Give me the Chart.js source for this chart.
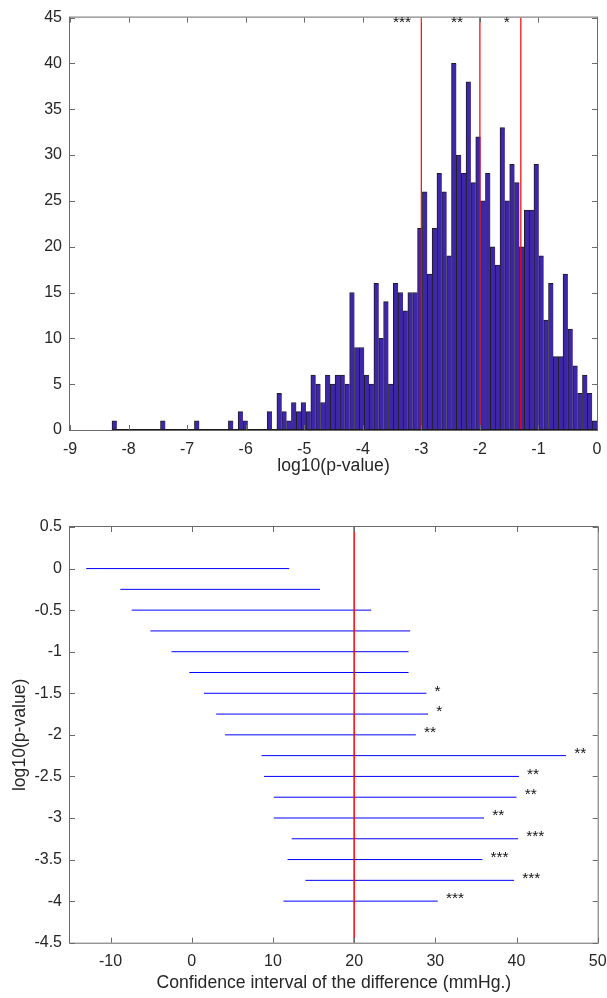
<!DOCTYPE html>
<html>
<head>
<meta charset="utf-8">
<script src="https://cdn.jsdelivr.net/npm/chart.js@4"></script>
<style>
  html, body { margin: 0; padding: 0; background: #fff; }
  #wrap { position: relative; width: 607px; height: 998px; }
  .box { position: absolute; left: 0; width: 607px; }
</style>
</head>
<body>
<div id="wrap">
  <div class="box" style="top:0;height:490px"><canvas id="histChart" width="607" height="490"></canvas></div>
  <div class="box" style="top:500px;height:498px"><canvas id="ciChart" width="607" height="498"></canvas></div>
</div>
<script>
// ---- top panel: histogram of log10(p-value), 100 bins ----
const histMin = -8.283;
const histBinWidth = 0.08283;
const histCounts = [
  1, 0, 0, 0, 0, 0, 0, 0, 0, 0,
  1, 0, 0, 0, 0, 0, 0, 1, 0, 0,
  0, 0, 0, 0, 1, 0, 2, 1, 0, 0,
  0, 0, 2, 0, 4, 2, 1, 3, 2, 3,
  2, 6, 5, 3, 6, 5, 6, 6, 5, 15,
  9, 9, 6, 5, 16, 10, 14, 5, 16, 15,
  13, 15, 15, 22, 26, 17, 22, 28, 26, 19,
  40, 30, 28, 38, 27, 32, 25, 28, 20, 18,
  33, 25, 29, 27, 20, 24, 24, 29, 19, 12,
  16, 8, 8, 17, 11, 7, 4, 6, 4, 1
];
const histXTicks = [-9, -8, -7, -6, -5, -4, -3, -2, -1, 0];
const histYTicks = [0, 5, 10, 15, 20, 25, 30, 35, 40, 45];
const sigLines = [-3, -2, -1.301];
const sigStarX = [-3.33, -2.39, -1.54];
const sigStarText = ['***', '**', '*'];

// ---- bottom panel: confidence intervals by log10(p-value) ----
const ciLogP = [0, -0.25, -0.5, -0.75, -1, -1.25, -1.5, -1.75, -2, -2.25, -2.5, -2.75, -3, -3.25, -3.5, -3.75, -4];
const ciLow  = [-13, -8.8, -7.4, -5.1, -2.5, -0.3, 1.5, 3.0, 4.1, 8.6, 8.9, 10.1, 10.1, 12.3, 11.8, 14.0, 11.3];
const ciHigh = [12, 15.8, 22.1, 26.9, 26.7, 26.7, 28.9, 29.1, 27.6, 46.1, 40.3, 40.0, 36.0, 40.2, 35.8, 39.7, 30.3];
const ciStars = ['', '', '', '', '', '', '*', '*', '**', '**', '**', '**', '**', '***', '***', '***', '***'];
const ciRef = 20;
const ciXTicks = [-10, 0, 10, 20, 30, 40, 50];
const ciYTicks = [0.5, 0, -0.5, -1, -1.5, -2, -2.5, -3, -3.5, -4, -4.5];

const FONT = "'Liberation Sans', Arial, Helvetica, sans-serif";
const TXT = '#262626';

// boxed axes with inward ticks, plus star annotations
const matlabAxes = {
  id: 'matlabAxes',
  afterDatasetsDraw(chart, args, opts) {
    const { ctx, chartArea: a, scales: { x, y } } = chart;
    ctx.save();
    if (opts.baseline) {
      ctx.strokeStyle = '#1a1a1a';
      ctx.lineWidth = 1;
      ctx.beginPath();
      ctx.moveTo(x.getPixelForValue(opts.baseline[0]), a.bottom - 0.5);
      ctx.lineTo(x.getPixelForValue(opts.baseline[1]), a.bottom - 0.5);
      ctx.stroke();
    }
    ctx.strokeStyle = '#6a6a6a';
    ctx.lineWidth = 1;
    ctx.strokeRect(a.left - 0.5, a.top - 0.5, a.right - a.left + 1, a.bottom - a.top + 1);
    ctx.beginPath();
    x.ticks.forEach(t => {
      const p = Math.round(x.getPixelForValue(t.value)) + 0.5;
      ctx.moveTo(p, a.bottom); ctx.lineTo(p, a.bottom - 5);
      ctx.moveTo(p, a.top); ctx.lineTo(p, a.top + 5);
    });
    y.ticks.forEach(t => {
      const p = Math.round(y.getPixelForValue(t.value)) + 0.5;
      ctx.moveTo(a.left, p); ctx.lineTo(a.left + 5, p);
      ctx.moveTo(a.right, p); ctx.lineTo(a.right - 5, p);
    });
    ctx.stroke();

    ctx.fillStyle = '#111';
    ctx.font = '15.5px ' + FONT;
    ctx.textBaseline = 'middle';
    const dy = opts.dy || 0;
    (opts.stars || []).forEach(s => {
      if (!s.text) return;
      ctx.textAlign = s.align;
      ctx.fillText(s.text, x.getPixelForValue(s.x), y.getPixelForValue(s.y) + dy);
    });
    ctx.restore();
  }
};

function axisCommon(tickList) {
  return {
    type: 'linear',
    offset: false,
    grid: { display: false, drawTicks: false },
    border: { display: false },
    afterBuildTicks: s => { s.ticks = tickList.map(v => ({ value: v })); },
    ticks: {
      font: { family: FONT, size: 16 },
      color: TXT,
      autoSkip: false,
      maxRotation: 0,
      callback: v => String(v)
    }
  };
}

// top: histogram
const hx = axisCommon(histXTicks);
hx.min = -9; hx.max = 0;
hx.ticks.padding = 9.5;
hx.afterFit = s => { s.height = 60; s.paddingLeft = 0; s.paddingRight = 0; };
hx.title = { display: true, text: 'log10(p-value)', color: TXT,
  font: { family: FONT, size: 17.6 }, padding: { top: 0, bottom: 12.8 } };

const hy = axisCommon(histYTicks);
hy.min = 0; hy.max = 45;
hy.ticks.padding = 8;
hy.afterFit = s => { s.width = 70; };

new Chart(document.getElementById('histChart'), {
  type: 'bar',
  data: {
    datasets: [
      ...sigLines.map(v => ({
        type: 'line',
        data: [{ x: v, y: 0 }, { x: v, y: 45 }],
        borderColor: '#ff0000', borderWidth: 1.2, pointRadius: 0, order: 0
      })),
      {
        type: 'bar',
        data: histCounts.map((c, i) => ({ x: histMin + (i + 0.5) * histBinWidth, y: c })),
        backgroundColor: '#3e26a8',
        borderColor: '#1e1e1e',
        borderWidth: { left: 1, top: 1, right: 0, bottom: 0 },
        borderSkipped: false,
        barPercentage: 1,
        categoryPercentage: 1,
        order: 1
      }
    ]
  },
  options: {
    responsive: false,
    animation: false,
    layout: { padding: { left: 0, right: 10, top: 15, bottom: 0 } },
    plugins: {
      legend: { display: false },
      tooltip: { enabled: false },
      matlabAxes: {
        baseline: [histMin, histMin + histCounts.length * histBinWidth],
        dy: 0,
        stars: sigStarText.map((t, i) => ({ text: t, x: sigStarX[i], y: 44.4, align: 'center' }))
      }
    },
    scales: { x: hx, y: hy }
  },
  plugins: [matlabAxes]
});

// bottom: confidence intervals
const cx = axisCommon(ciXTicks);
cx.min = -15; cx.max = 50;
cx.ticks.padding = 9.5;
cx.afterFit = s => { s.height = 55.3; s.paddingLeft = 0; s.paddingRight = 0; };
cx.title = { display: true, text: 'Confidence interval of the difference (mmHg.)', color: TXT,
  font: { family: FONT, size: 17.6 }, padding: { top: 0, bottom: 4 } };

const cy = axisCommon(ciYTicks);
cy.min = -4.5; cy.max = 0.5;
cy.ticks.padding = 8;
cy.afterFit = s => { s.width = 70; };
cy.title = { display: true, text: 'log10(p-value)', color: TXT,
  font: { family: FONT, size: 17.6 }, padding: { top: 10, bottom: 0 } };

new Chart(document.getElementById('ciChart'), {
  type: 'line',
  data: {
    datasets: [
      {
        data: [{ x: ciRef, y: -4.5 }, { x: ciRef, y: 0.5 }],
        borderColor: '#ff0000', borderWidth: 1.5, pointRadius: 0, order: 0
      },
      ...ciLogP.map((v, i) => ({
        data: [{ x: ciLow[i], y: v }, { x: ciHigh[i], y: v }],
        borderColor: '#0000ff', borderWidth: 1, pointRadius: 0, order: 1
      }))
    ]
  },
  options: {
    responsive: false,
    animation: false,
    layout: { padding: { left: 0, right: 9.3, top: 27, bottom: 0 } },
    plugins: {
      legend: { display: false },
      tooltip: { enabled: false },
      matlabAxes: {
        dy: -2,
        stars: ciStars.map((t, i) => ({ text: t, x: ciHigh[i] + 1, y: ciLogP[i], align: 'left' }))
      }
    },
    scales: { x: cx, y: cy }
  },
  plugins: [matlabAxes]
});
</script>
</body>
</html>
